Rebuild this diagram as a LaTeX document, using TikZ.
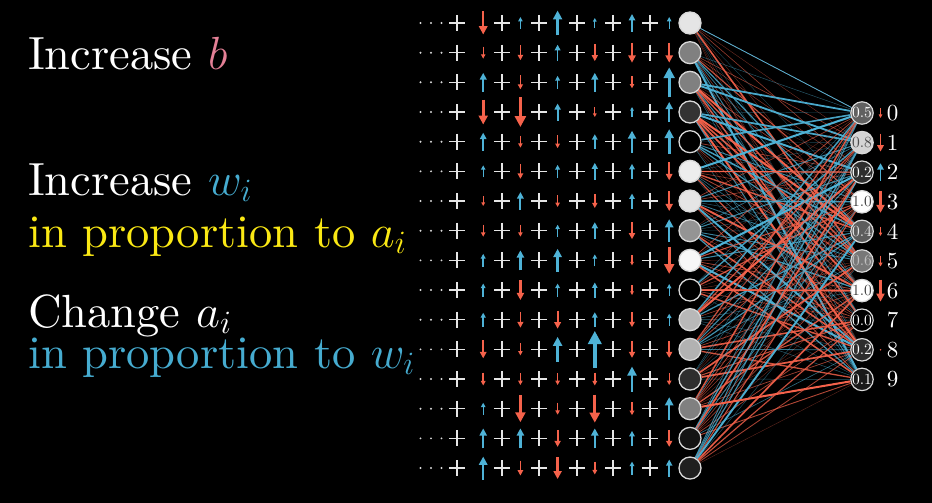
\RequirePackage{fix-cm}
\documentclass[tikz,border=0pt]{standalone}
\usepackage{fontspec}
\newfontfamily\lmten{lmroman10-regular.otf}
\usetikzlibrary{arrows.meta}
\definecolor{ared}{RGB}{245,98,75}
\definecolor{ablue}{RGB}{78,178,214}
\definecolor{tblue}{RGB}{70,172,208}
\definecolor{tyellow}{RGB}{250,232,20}
\definecolor{tpink}{RGB}{228,128,150}
\pgfdeclarelayer{bg}
\pgfsetlayers{bg,main}
\newcommand\vecarrow[3]{%
  \pgfmathsetmacro\aL{abs(#3)}%
  \pgfmathsetmacro\aW{max(0.9,0.11*\aL)}%
  \pgfmathsetmacro\hL{0.36*\aL}%
  \pgfmathsetmacro\hW{0.36*\aL}%
  \pgfmathsetmacro\ys{#2+(#3)/2}%
  \pgfmathsetmacro\ye{#2-(#3)/2}%
  \ifdim #3 pt>0pt \def\acol{ablue}\else\def\acol{ared}\fi
  \draw[\acol, line width=\aW pt, -{Triangle[length=\hL pt, width=\hW pt]}] (#1,\ys) -- (#1,\ye);%
}
\begin{document}
\begin{tikzpicture}[x=1pt,y=-1pt,
  hid/.style={circle, minimum size=22pt, inner sep=0pt, draw=white!85!black, line width=1.3pt},
  outn/.style={circle, minimum size=20pt, inner sep=0pt, draw=white!85!black, line width=1.2pt, font=\lmten\fontsize{15.5}{15.5}\selectfont},
  lbl/.style={anchor=base west, inner sep=0pt, font=\lmten\fontsize{46.5}{46.5}\selectfont},
  digit/.style={inner sep=0pt, text=white, font=\lmten\fontsize{23}{23}\selectfont},
  plusln/.style={line width=1.4pt, draw=white!90!black},
  dotm/.style={fill=white!85!black}
]
\useasboundingbox (0,0) rectangle (932,503);

% left texts
\node[lbl, text=white] (t1) at (28,70) {Increase \textcolor{tpink}{$b$}};
\node[lbl, text=white] (t2) at (28,195) {Increase \textcolor{tblue}{$w_i$}};
\node[lbl, text=tyellow] (t3) at (28,247) {in proportion to $a_i$};
\node[lbl, text=white] (t4) at (28,327) {Change $a_i$};
\node[lbl, text=tblue] (t5) at (28,368) {in proportion to $w_i$};

% hidden layer
\foreach \g [count=\i] in {90,50,50,20,0,93,90,58,97,0,72,70,18,50,8,12} {
  \pgfmathsetmacro\yy{23+(\i-1)*29.67}
  \node[hid, fill=white!\g!black] (h\i) at (690,\yy) {};
  \foreach \dx in {420.5,431,441.5} \fill[dotm] (\dx,\yy) circle (1.1);
  \foreach \px in {457,502,539,577,613,650} {
    \draw[plusln] (\px-8,\yy) -- (\px+8,\yy);
    \draw[plusln] (\px,\yy-8) -- (\px,\yy+8);
  }
}

% arrows in the sums
\foreach \row [count=\i] in {
  {-23,12,25,10,18,12},
  {-12,-15,16,-17,-20,-20},
  {19,-14,13,19,-12,30},
  {-25,-30,17,-10,10,20},
  {18,-12,-13,15,22,25},
  {12,-15,13,17,15,-18},
  {-10,18,-12,-14,15,-20},
  {-12,-12,12,17,-17,23},
  {13,20,23,12,-10,-27},
  {13,-20,13,15,-10,12},
  {14,-16,-18,15,-15,12},
  {-18,-12,25,37,-17,-17},
  {-13,-12,-12,-13,25,-12},
  {12,-27,-12,-28,-13,23},
  {20,20,-17,20,15,-17},
  {23,-15,-22,-13,13,17}} {
  \pgfmathsetmacro\yy{23+(\i-1)*29.67}
  \foreach \v [count=\k] in \row {
    \pgfmathsetmacro\xx{446+37.2*\k}
    \vecarrow{\xx}{\yy}{\v}
  }
}

% output layer
\foreach \f/\tc/\t [count=\j from 0] in {
  38/white/0.5, 83/black!70/0.8, 18/white/0.2, 100/black!75/1.0, 36/white!90!black/0.4,
  47/white!75!black/0.6, 100/black!75/1.0, 0/white/0.0, 18/white/0.2, 10/white/0.1} {
  \pgfmathsetmacro\yy{113+\j*29.6}
  \node[outn, fill=white!\f!black, text=\tc] (o\j) at (862,\yy) {\t};
  \node[digit] (d\j) at (892.5,\yy) {\j};
}
\foreach \v [count=\j from 0] in {-10,-18,18,-22,-9,-11,-22} {
  \pgfmathsetmacro\yy{113+\j*29.6}
  \vecarrow{880.5}{\yy}{\v}
}
\fill[ared] (880.5,349.8) circle (0.8);

% connections
\begin{pgfonlayer}{bg}
\fill[black] (0,0) rectangle (932,503);
\pgfmathsetseed{12345}
\foreach \i in {1,...,16} {
  \foreach \j in {0,...,9} {
    \pgfmathsetmacro\w{rand}
    \pgfmathsetmacro\a{abs(\w)}
    \pgfmathsetmacro\lw{0.35+1.7*\a*\a}
    \pgfmathsetmacro\op{0.35+0.65*\a}
    \ifdim \w pt>0pt \def\cc{ablue}\else\def\cc{ared}\fi
    \draw[draw=\cc, line width=\lw pt, opacity=\op] (h\i) -- (o\j);
  }
}
\draw[ared, line width=2pt] (h14) -- (o9);
\draw[ared, line width=1.5pt] (h10) -- (o6);
\draw[ared, line width=1.2pt] (h6) -- (o2);
\draw[ablue, line width=0.8pt] (h1) -- (o0);
\end{pgfonlayer}
\end{tikzpicture}
\end{document}
